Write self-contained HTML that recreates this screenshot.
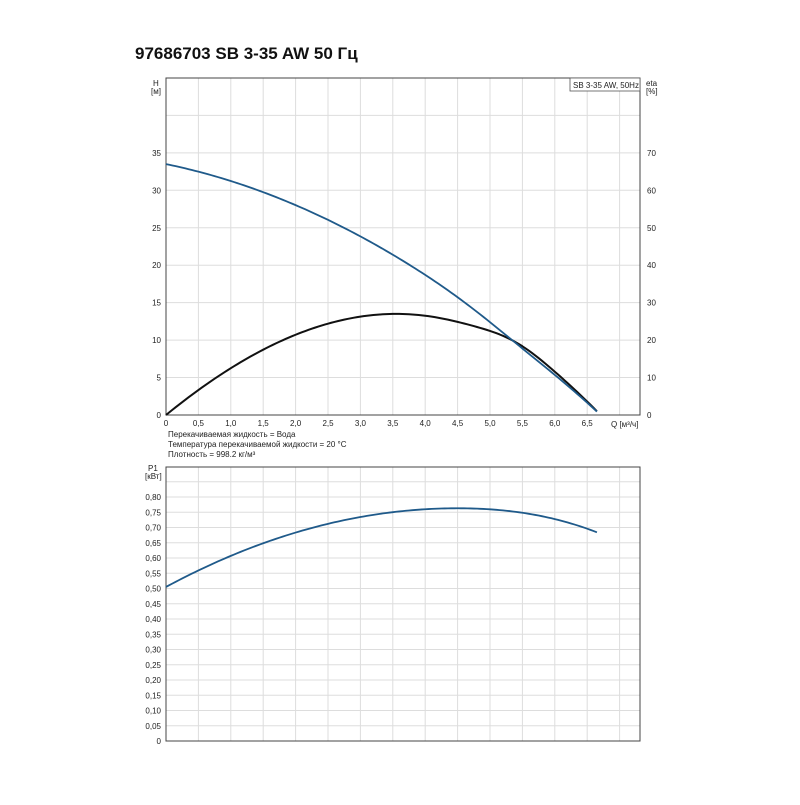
<!DOCTYPE html>
<html><head><meta charset="utf-8"><style>
body{margin:0;background:#fff;width:800px;height:800px;overflow:hidden}
svg text{font-family:"Liberation Sans",sans-serif;fill:#222}
</style></head><body>
<svg id="s" width="800" height="800" xmlns="http://www.w3.org/2000/svg">
<text x="135" y="59" font-size="17" font-weight="bold" style="fill:#111">97686703 SB 3-35 AW 50 Гц</text>
<g id="g"></g>
<text x="153" y="86" font-size="8">H</text><text x="151" y="94" font-size="8">[м]</text>
<text x="646" y="86" font-size="8">eta</text><text x="646" y="94" font-size="8">[%]</text>
<rect x="570" y="78" width="70" height="13" fill="#fff" stroke="#555" stroke-width="0.8"/>
<text x="573" y="88" font-size="8">SB 3-35 AW, 50Hz</text>
<text x="611" y="427" font-size="8">Q [м³/ч]</text>
<text x="168" y="437" font-size="8">Перекачиваемая жидкость = Вода</text>
<text x="168" y="447" font-size="8">Температура перекачиваемой жидкости = 20 °C</text>
<text x="168" y="457" font-size="8">Плотность = 998.2 кг/м³</text>
<text x="148" y="471" font-size="8">P1</text><text x="145" y="479" font-size="8">[кВт]</text>
</svg>
<script>
var g=document.getElementById('g'),h='';
var X0=166,XR=640,sx=64.8;
function X(q){return X0+q*sx}
var T=78,B=415,hs=7.49;
for(var i=1;i<=14;i++){var x=X(i*0.5);if(x<XR)h+='<line x1="'+x+'" y1="'+T+'" x2="'+x+'" y2="'+B+'" stroke="#ddd"/>';}
for(var v=5;v<=45;v+=5){var y=B-v*hs;h+='<line x1="'+X0+'" y1="'+y+'" x2="'+XR+'" y2="'+y+'" stroke="#ddd"/>';}
h+='<rect x="'+X0+'" y="'+T+'" width="'+(XR-X0)+'" height="'+(B-T)+'" fill="none" stroke="#444"/>';
for(var v=0;v<=35;v+=5){var y=B-v*hs;h+='<text x="161" y="'+(y+3)+'" font-size="8" text-anchor="end">'+v+'</text>';
h+='<text x="647" y="'+(y+3)+'" font-size="8">'+(v*2)+'</text>';}
for(var i=0;i<=13;i++){var q=i*0.5;h+='<text x="'+X(q)+'" y="426" font-size="8" text-anchor="middle">'+(i==0?'0':q.toFixed(1).replace('.',','))+'</text>';}
var T2=467,B2=741,ps=15.25/0.05;
for(var i=1;i<=14;i++){var x=X(i*0.5);if(x<XR)h+='<line x1="'+x+'" y1="'+T2+'" x2="'+x+'" y2="'+B2+'" stroke="#ddd"/>';}
for(var k=1;k<=17;k++){var y=B2-k*0.05*ps;h+='<line x1="'+X0+'" y1="'+y+'" x2="'+XR+'" y2="'+y+'" stroke="#ddd"/>';}
h+='<rect x="'+X0+'" y="'+T2+'" width="'+(XR-X0)+'" height="'+(B2-T2)+'" fill="none" stroke="#444"/>';
for(var k=0;k<=16;k++){var y=B2-k*0.05*ps;h+='<text x="161" y="'+(y+3)+'" font-size="8" text-anchor="end">'+(k==0?'0':(k*0.05).toFixed(2).replace('.',','))+'</text>';}
function curve(f,ys,y0,col,w){var d='';for(var q=0;q<=6.651;q+=0.05){d+=(q==0?'M':'L')+X(q).toFixed(2)+','+(y0-f(q)*ys).toFixed(2)+' ';}
return '<path d="'+d+'" fill="none" stroke="'+col+'" stroke-width="'+w+'" stroke-linejoin="round"/>';}
var fH=function(q){return 33.5-1.784*q-0.478*q*q-0.35*Math.exp(-Math.pow((q-5.5)/0.8,2))};
var fE=function(q){return 14.11*q-1.526*q*q-0.0863*q*q*q+1.3*Math.exp(-Math.pow((q-5.4)/0.6,2))};
var fP=function(q){return 0.763-0.01274*(q-4.5)*(q-4.5)-0.002*Math.max(0,q-4.5)*Math.max(0,q-4.5)*(q-4.5)};
h+=curve(fE,hs/2,B,'#111',2)+curve(fH,hs,B,'#1f5a8a',1.8)+curve(fP,ps,B2,'#1f5a8a',1.8);
g.innerHTML=h;
</script>
</body></html>
